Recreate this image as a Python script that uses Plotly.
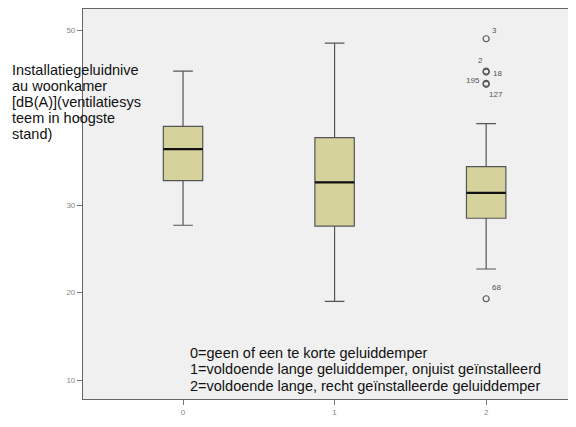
import plotly.graph_objects as go

# Categorieën (geluiddemper-situatie)
groepen = [0, 1, 2]

# Boxplot-statistieken per groep [dB(A)]
onder_whisker = [27.7, 19.0, 22.7]
q1 = [32.8, 27.6, 28.5]
mediaan = [36.4, 32.6, 31.4]
q3 = [39.0, 37.7, 34.4]
boven_whisker = [45.3, 48.5, 39.3]

# Uitschieters (alleen groep 2)
uitschieter_x = [2, 2, 2, 2, 2, 2]
uitschieter_y = [49.0, 45.3, 45.2, 43.9, 43.8, 19.3]
uitschieter_label = ['3', '2', '18', '195', '127', '68']
label_shift = [(8, 8), (-6, 11), (11, -1), (-13, 3), (10, -10), (10, 11)]

y_ticks = [10, 20, 30, 40, 50]
y_ticktekst = ['10', '20', '30', '', '50']  # 40 valt weg achter de astitel

as_titel = ['Installatiegeluidnive', 'au woonkamer', '[dB(A)](ventilatiesys',
            'teem in hoogste', 'stand)']
legenda = ['0=geen of een te korte geluiddemper',
           '1=voldoende lange geluiddemper, onjuist geïnstalleerd',
           '2=voldoende lange, recht geïnstalleerde geluiddemper']

# Plotgebied in pixels (figuur wordt met 8px body-marge getoond)
W, H = 568, 419
L, R, T, B = 75, 8, 1, 28
plot_w = W - L - R
plot_h = H - T - B


def px_naar_paper(px, py):
    # pixelpositie in het venster -> paper-coördinaten
    return (px - 8 - L) / plot_w, (H - B - (py - 8)) / plot_h


fig = go.Figure()

fig.add_trace(go.Box(
    x=groepen,
    q1=q1,
    median=mediaan,
    q3=q3,
    lowerfence=onder_whisker,
    upperfence=boven_whisker,
    width=0.26,
    whiskerwidth=0.5,
    fillcolor='#d6d29b',
    line=dict(color='#555555', width=1.2),
    boxpoints=False,
    showlegend=False,
    hoverinfo='skip'
))

# Dikke zwarte mediaanlijn
fig.add_trace(go.Box(
    x=groepen,
    q1=mediaan,
    median=mediaan,
    q3=mediaan,
    lowerfence=mediaan,
    upperfence=mediaan,
    width=0.26,
    whiskerwidth=0,
    fillcolor='rgba(0,0,0,0)',
    line=dict(color='#111111', width=2.2),
    boxpoints=False,
    showlegend=False,
    hoverinfo='skip'
))

fig.add_trace(go.Scatter(
    x=uitschieter_x,
    y=uitschieter_y,
    mode='markers',
    marker=dict(symbol='circle-open', size=6, color='#555555', line=dict(width=1.2)),
    showlegend=False,
    hoverinfo='skip'
))

# Labels bij uitschieters
for xv, yv, lab, (dx, dy) in zip(uitschieter_x, uitschieter_y, uitschieter_label, label_shift):
    fig.add_annotation(
        x=xv, y=yv, text=lab, showarrow=False,
        xshift=dx, yshift=dy,
        font=dict(family='Liberation Sans', size=8, color='#555555')
    )

# As-titel als losse regels (overlapt het plotgebied, zoals in het origineel)
for i, regel in enumerate(as_titel):
    x, y = px_naar_paper(10, 70 + 16 * i)
    fig.add_annotation(
        xref='paper', yref='paper', x=x, y=y,
        xanchor='left', yanchor='middle', text=regel, showarrow=False,
        font=dict(family='Liberation Sans', size=14.5, color='#111111')
    )

# Legenda-tekst onderin
for i, regel in enumerate(legenda):
    x, y = px_naar_paper(188, 353 + 16.4 * i)
    fig.add_annotation(
        xref='paper', yref='paper', x=x, y=y,
        xanchor='left', yanchor='middle', text=regel, showarrow=False,
        font=dict(family='Liberation Sans', size=14.5, color='#111111')
    )

fig.update_layout(
    width=W,
    height=H,
    margin=dict(l=L, r=R, t=T, b=B),
    paper_bgcolor='white',
    plot_bgcolor='#f0f0f0',
    boxmode='overlay',
    font=dict(family='Liberation Sans', size=8, color='#888888'),
    xaxis=dict(
        range=[-0.66, 2.54],
        tickmode='array',
        tickvals=groepen,
        ticktext=[str(g) for g in groepen],
        ticks='outside', ticklen=5, tickcolor='#777777',
        showgrid=False, zeroline=False,
        showline=True, linecolor='#666666', linewidth=1.2, mirror=True
    ),
    yaxis=dict(
        range=[7.85, 52.4],
        tickmode='array',
        tickvals=y_ticks,
        ticktext=y_ticktekst,
        ticks='outside', ticklen=5, tickcolor='#777777',
        showgrid=False, zeroline=False,
        showline=True, linecolor='#666666', linewidth=1.2, mirror=True
    ),
    showlegend=False
)

fig.write_html("out.html")
